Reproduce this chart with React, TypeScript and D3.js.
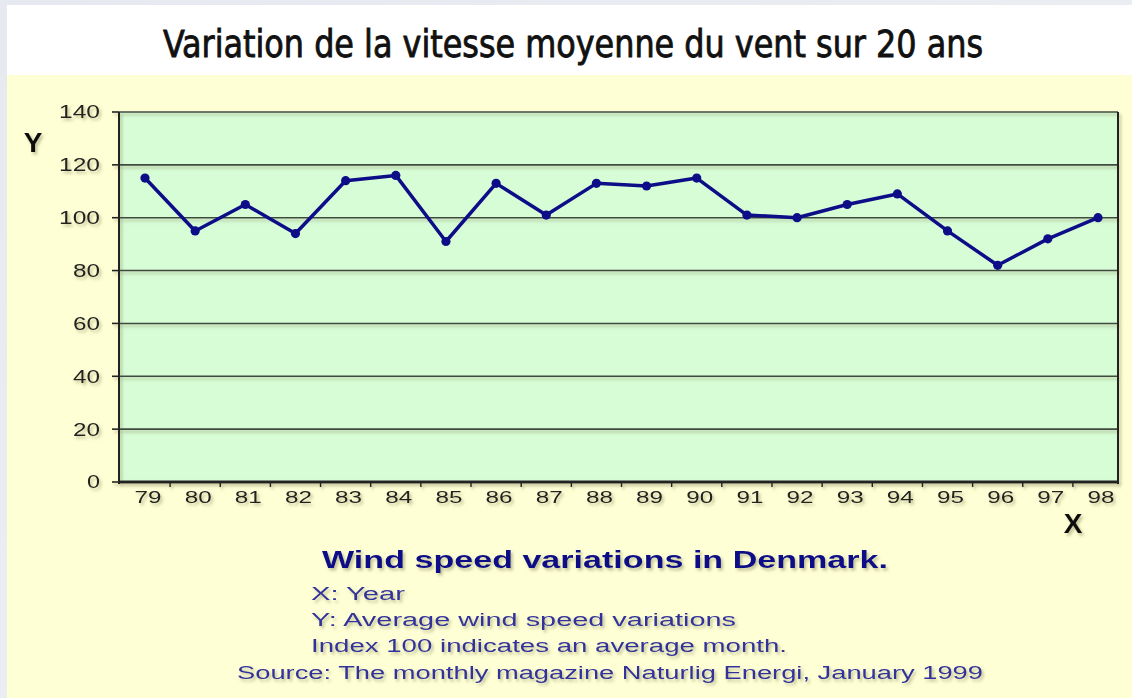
import React from "react";
import * as d3 from "d3";

const years = ["79","80","81","82","83","84","85","86","87","88","89","90","91","92","93","94","95","96","97","98"];
const windIndex = [115,95,105,94,114,116,91,113,101,113,112,115,101,100,105,109,95,82,92,100];
const yTicks = [0,20,40,60,80,100,120,140];
const noteLines = ["X: Year","Y: Average wind speed variations","Index 100 indicates an average month."];
const noteWidths = [94, 425, 476];
const sourceLine = "Source: The monthly magazine Naturlig Energi, January 1999";

const W = 1132, H = 698;
const plot = { left: 119, right: 1118, top: 112, bottom: 482 };

export default function App() {
  const x = d3.scalePoint<string>().domain(years).range([145, 1098]);
  const y = d3.scaleLinear().domain([0, 140]).range([plot.bottom, plot.top]);
  const step = x.step();
  const line = d3.line<number>().x((_, i) => x(years[i])!).y(d => y(d));
  const navy = "#0d0d88";
  const soft = "#33339a";
  return (
    <svg width={W} height={H} style={{ position: "fixed", left: 0, top: 0, display: "block" }}>
      <defs>
        <filter id="sh" x="-10%" y="-30%" width="130%" height="180%">
          <feDropShadow dx="2" dy="2.5" stdDeviation="1.6" floodColor="#8f8f60" floodOpacity="0.55" />
        </filter>
        <linearGradient id="bg" x1="0" y1="0" x2="1" y2="1">
          <stop offset="0" stopColor="#e6eaf0" />
          <stop offset="1" stopColor="#eef1f5" />
        </linearGradient>
      </defs>
      <rect x={0} y={0} width={W} height={H} fill="url(#bg)" />
      <rect x={7} y={5} width={W - 7} height={70} fill="#ffffff" />
      <rect x={7} y={75} width={W - 7} height={H - 75} fill="#ffffd6" />
      <text x={573} y={57} textAnchor="middle" fontFamily="'DejaVu Sans Condensed','Liberation Sans Narrow','Arial Narrow',sans-serif"
        fontSize={37} textLength={820} lengthAdjust="spacingAndGlyphs" fill="#111" stroke="#111" strokeWidth={0.8}>
        Variation de la vitesse moyenne du vent sur 20 ans
      </text>

      <rect x={plot.left} y={plot.top} width={plot.right - plot.left} height={plot.bottom - plot.top} fill="#d6fdd6" />
      <g filter="url(#sh)">
        {yTicks.map(t => (
          <g key={t}>
            <line x1={plot.left} x2={plot.right} y1={y(t)} y2={y(t)} stroke="#404a40" strokeWidth={1.6} />
            <line x1={112} x2={plot.left} y1={y(t)} y2={y(t)} stroke="#222" strokeWidth={1.6} />
            <text x={100} y={y(t)} dy="0.36em" textAnchor="end" fontFamily="'Liberation Sans',Arial,sans-serif" fontSize={18}
              textLength={String(t).length * 14 - 1} lengthAdjust="spacingAndGlyphs" fill="#222">{t}</text>
          </g>
        ))}
        <line x1={plot.left} x2={plot.left} y1={plot.top} y2={plot.bottom + 2} stroke="#222" strokeWidth={2} />
        <line x1={plot.right} x2={plot.right} y1={plot.top} y2={plot.bottom + 2} stroke="#222" strokeWidth={2} />
        <line x1={plot.left} x2={plot.right + 1} y1={plot.bottom} y2={plot.bottom} stroke="#222" strokeWidth={3} />
        {years.slice(0, -1).map(yr => (
          <line key={"t" + yr} x1={x(yr)! + step / 2} x2={x(yr)! + step / 2} y1={plot.bottom} y2={plot.bottom + 5} stroke="#222" strokeWidth={1.5} />
        ))}
        {years.map(yr => (
          <text key={"l" + yr} x={x(yr)! + 3} y={503} textAnchor="middle" fontFamily="'Liberation Sans',Arial,sans-serif"
            fontSize={17} textLength={27} lengthAdjust="spacingAndGlyphs" fill="#222">{yr}</text>
        ))}
        <text x={33} y={152} textAnchor="middle" fontFamily="'Liberation Sans',Arial,sans-serif" fontSize={28} fontWeight="bold" fill="#111">Y</text>
        <text x={1073} y={533} textAnchor="middle" fontFamily="'Liberation Sans',Arial,sans-serif" fontSize={28} fontWeight="bold" fill="#111">X</text>
      </g>

      <path d={line(windIndex)!} fill="none" stroke={navy} strokeWidth={3.5} strokeLinejoin="round" />
      {windIndex.map((v, i) => (
        <circle key={i} cx={x(years[i])!} cy={y(v)} r={4.6} fill={navy} />
      ))}

      <g filter="url(#sh)" fontFamily="'Liberation Sans',Arial,sans-serif">
        <text x={322} y={568} fontSize={23} fontWeight="bold" fill={navy} textLength={566} lengthAdjust="spacingAndGlyphs">
          Wind speed variations in Denmark.
        </text>
        {noteLines.map((s, i) => (
          <text key={s} x={311} y={600 + i * 26} fontSize={18} fill={soft} textLength={noteWidths[i]} lengthAdjust="spacingAndGlyphs">{s}</text>
        ))}
        <text x={237} y={679} fontSize={18} fill={soft} textLength={746} lengthAdjust="spacingAndGlyphs">{sourceLine}</text>
      </g>
    </svg>
  );
}
